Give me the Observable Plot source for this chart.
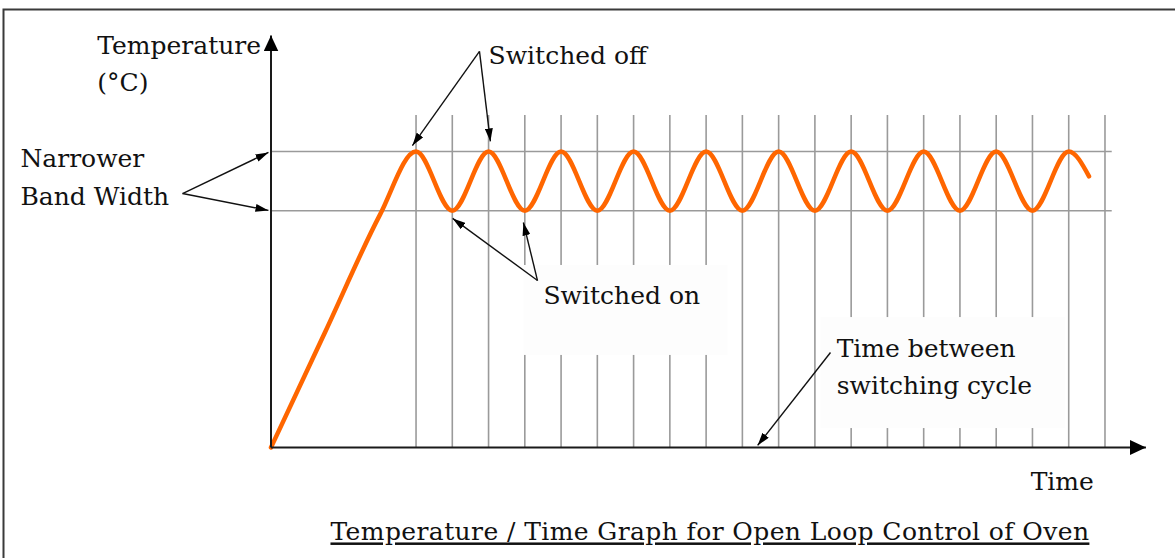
<!DOCTYPE html>
<html><head><meta charset="utf-8">
<script src="https://cdn.jsdelivr.net/npm/d3@7"></script>
<script src="https://cdn.jsdelivr.net/npm/@observablehq/plot@0.6"></script>
<style>body{margin:0;background:#fff} #chart svg{display:block}</style>
</head><body><div id="chart"></div>
<script>
// ---------------- data (time units, temperature units) ----------------
const curveTime = [0, 1.5, 3.0, 4, 5, 6, 7, 8, 9, 10, 11, 12, 13, 14, 15, 16, 17, 18, 19, 20, 21, 22, 22.56];
const curveTemp = [0, 39.2, 78.5, 100, 80, 100, 80, 100, 80, 100, 80, 100, 80, 100, 80, 100, 80, 100, 80, 100, 80, 100, 91.6];
const bandTemps = [100, 80];
const gridTimes = [4, 5, 6, 7, 8, 9, 10, 11, 12, 13, 14, 15, 16, 17, 18, 19, 20, 21, 22, 23];

// annotation arrows (from -> to)
const arrowX1 = [-2.44, -2.44, 5.75, 5.75, 7.35, 7.35, 15.43];
const arrowY1 = [85.8, 85.8, 133.8, 133.8, 56.4, 56.4, 32.1];
const arrowX2 = [-0.07, -0.07, 3.90, 6.05, 5.01, 6.96, 13.42];
const arrowY2 = [99.7, 80.1, 102.0, 103.4, 77.4, 76.0, 0.7];

// labels (left x, baseline y)
const labelText = ["Temperature", "(°C)", "Narrower", "Band Width", "Switched off", "Switched on",
  "Time between", "switching cycle", "Time", "Temperature / Time Graph for Open Loop Control of Oven"];
const labelX = [-4.79, -4.79, -6.91, -6.91, 6.0, 7.515, 15.6, 15.6, 20.95, 1.64];
const labelY = [133.1, 120.3, 94.6, 81.8, 129.7, 48.6, 30.7, 18.2, -14.5, -31.4];

// background boxes behind the labels (they hide the grid lines)
const boxX1 = [6.98, 15.17];
const boxX2 = [12.6, 21.92];
const boxY1 = [31.1, 6.4];
const boxY2 = [61.5, 43.9];

// axis extents
const timeAxisEnd = 24.13;
const tempAxisEnd = 139.2;
const bandEnd = 23.2;
const gridTop = 112.2;

// ---------------- layout ----------------
const W = 1175, H = 558;
const originX = 270.5, originY = 447, pxPerTime = 36.26, pxPerDeg = 2.96;
const xDomain = [-originX / pxPerTime, (W - originX) / pxPerTime];
const yDomain = [(originY - H) / pxPerDeg, originY / pxPerDeg];

const curve = curveTime.map((t, i) => ({t, v: curveTemp[i]}));
const grid = gridTimes.map(t => ({t, y1: 0, y2: gridTop}));
const bands = bandTemps.map(v => ({v, x1: 0, x2: bandEnd}));
const arrows = arrowX1.map((x, i) => ({x1: x, y1: arrowY1[i], x2: arrowX2[i], y2: arrowY2[i]}));
const axes = [{x1: 0, y1: 0, x2: timeAxisEnd, y2: 0}, {x1: 0, y1: 0, x2: 0, y2: tempAxisEnd}];
const labels = labelText.map((s, i) => ({s, x: labelX[i], y: labelY[i]}));
const boxes = boxX1.map((x, i) => ({x1: x, x2: boxX2[i], y1: boxY1[i], y2: boxY2[i]}));

const font = "DejaVu Serif";

const chart = Plot.plot({
  width: W, height: H,
  margin: 0,
  style: {background: "#fff", overflow: "hidden"},
  x: {domain: xDomain, axis: null},
  y: {domain: yDomain, axis: null},
  marks: [
    Plot.frame({stroke: "#3a3a3a", strokeWidth: 2, insetLeft: 3, insetTop: 9, insetRight: -10, insetBottom: -10}),
    Plot.ruleX(grid, {x: "t", y1: "y1", y2: "y2", stroke: "#9a9a9a", strokeWidth: 1.6}),
    Plot.ruleY(bands, {y: "v", x1: "x1", x2: "x2", stroke: "#9a9a9a", strokeWidth: 1.6}),
    Plot.rect(boxes, {x1: "x1", x2: "x2", y1: "y1", y2: "y2", fill: "#fdfdfd"}),
    Plot.line(curve, {x: "t", y: "v", stroke: "#ff6600", strokeWidth: 4.5, curve: "monotone-x", strokeLinecap: "round"}),
    Plot.link(axes, {x1: "x1", y1: "y1", x2: "x2", y2: "y2", stroke: "#1a1a1a", strokeWidth: 2}),
    Plot.link(arrows, {x1: "x1", y1: "y1", x2: "x2", y2: "y2", stroke: "#111", strokeWidth: 1.4}),
    Plot.text(labels, {x: "x", y: "y", text: "s", textAnchor: "start", lineAnchor: "bottom",
      fontFamily: font, fontSize: 25, fill: "#111"})
  ]
});
document.getElementById("chart").appendChild(chart);

// filled arrowheads
const svg = d3.select(chart);
const defs = svg.insert("defs", ":first-child");
function addMarker(id, len, wid) {
  defs.append("marker").attr("id", id).attr("viewBox", "0 0 10 10")
    .attr("refX", 10).attr("refY", 5)
    .attr("markerUnits", "userSpaceOnUse").attr("markerWidth", len).attr("markerHeight", wid)
    .attr("orient", "auto").attr("preserveAspectRatio", "none")
    .append("path").attr("d", "M0,0L10,5L0,10Z").attr("fill", "#000");
}
addMarker("headBig", 16, 15);
addMarker("headSmall", 13, 8);
const linkGroups = svg.selectAll('g[aria-label="link"]').nodes();
d3.select(linkGroups[0]).selectAll("path").attr("marker-end", "url(#headBig)");
d3.select(linkGroups[1]).selectAll("path").attr("marker-end", "url(#headSmall)");
svg.selectAll("text").filter(function() { return this.textContent.startsWith("Temperature /"); })
  .attr("text-decoration", "underline").attr("letter-spacing", "0.4px");
</script></body></html>
